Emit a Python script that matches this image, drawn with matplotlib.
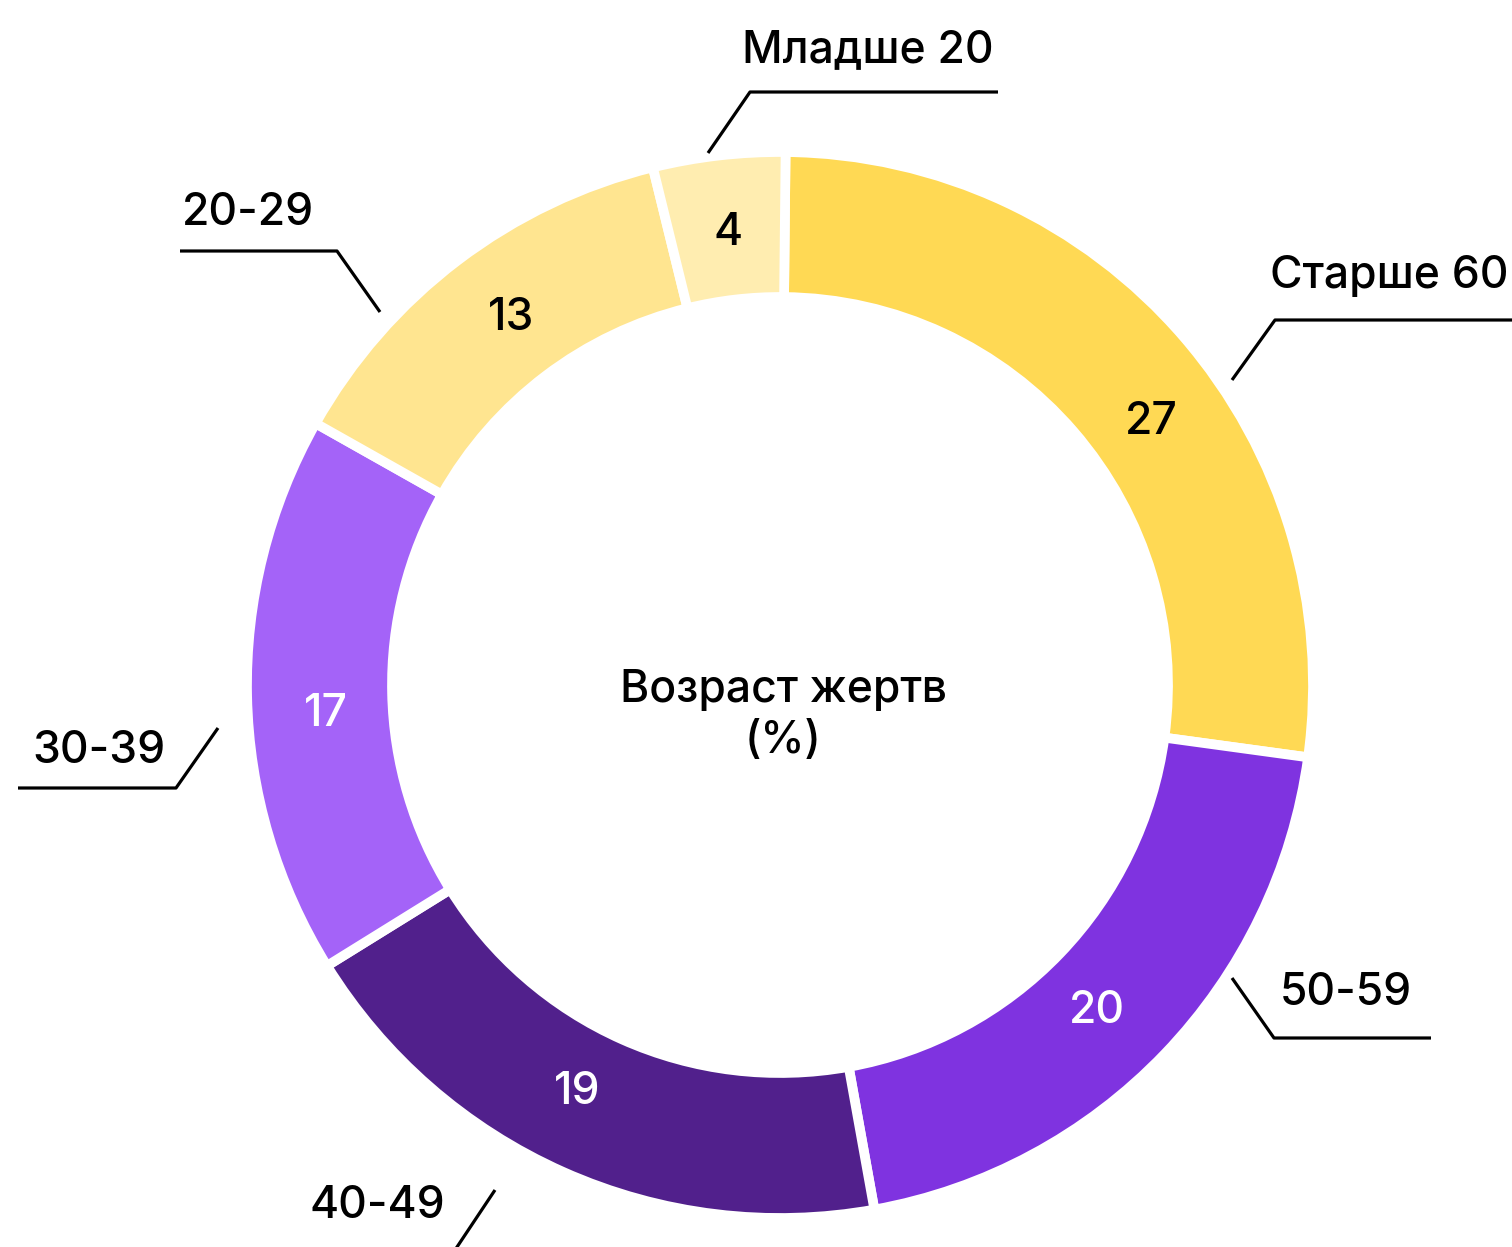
import numpy as np
import matplotlib.pyplot as plt

plt.rcParams['font.family'] = ['Inter', 'DejaVu Sans']

# данные: возраст жертв, %
groups = ['Старше 60', '50-59', '40-49', '30-39', '20-29', 'Младше 20']
shares = [27, 20, 19, 17, 13, 4]
colors = ['#FFD954', '#7F33E0', '#51208C', '#A463F8', '#FFE590', '#FFEDB0']
text_colors = ['black', 'white', 'white', 'white', 'black', 'black']

# сдвиг подписи значения по углу (град.) относительно середины сектора
label_shift = [-5.5, -2.0, -2.5, 2.5, -1.0, 0.0]

# подписи с выносками (пиксели картинки): начало, излом, конец линии, текст (x, baseline)
leaders = [
    ((1232, 380), (1275, 320), (1512, 320), (1270, 288)),
    ((1232, 978), (1274, 1038), (1431, 1038), (1280, 1005)),
    ((495, 1190), (455, 1250), (300, 1250), (310, 1218)),
    ((218, 728), (176, 788), (18, 788), (32, 763)),
    ((380, 312), (337, 251), (180, 251), (182, 225)),
    ((708, 153), (750, 92), (998, 92), (742, 62)),
]

W, H = 1512, 1247
cx, cy = 780, 685
r_out, r_in = 528, 393
lw = 7

fig = plt.figure(figsize=(W / 100, H / 100), dpi=100)
ax = fig.add_axes([0, 0, 1, 1])

wedges, _ = ax.pie(shares, colors=colors, startangle=89.4, counterclock=False,
                   center=(cx, H - cy), radius=r_out + 5, frame=True,
                   wedgeprops=dict(width=r_out - r_in + 10, edgecolor='white', linewidth=lw))

r_mid = 455
for w, v, tc, sh in zip(wedges, shares, text_colors, label_shift):
    a = np.deg2rad((w.theta1 + w.theta2) / 2 + sh)
    ax.text(cx + r_mid * np.cos(a), H - cy + r_mid * np.sin(a), str(v),
            ha='center', va='center', fontsize=32, color=tc, fontweight='medium')

for name, (p0, p1, p2, t) in zip(groups, leaders):
    ax.plot([p0[0], p1[0], p2[0]], [H - p0[1], H - p1[1], H - p2[1]],
            color='black', lw=2.3, solid_capstyle='butt')
    ax.text(t[0], H - t[1], name, ha='left', va='baseline', fontsize=32,
            color='black', fontweight='medium')

ax.text(783, H - 702, 'Возраст жертв', ha='center', va='baseline', fontsize=32, fontweight='medium')
ax.text(783, H - 753, '(%)', ha='center', va='baseline', fontsize=32, fontweight='medium')

ax.set_xlim(0, W)
ax.set_ylim(0, H)
ax.set_aspect('equal')
ax.axis('off')

fig.savefig('out.png', dpi=100)
